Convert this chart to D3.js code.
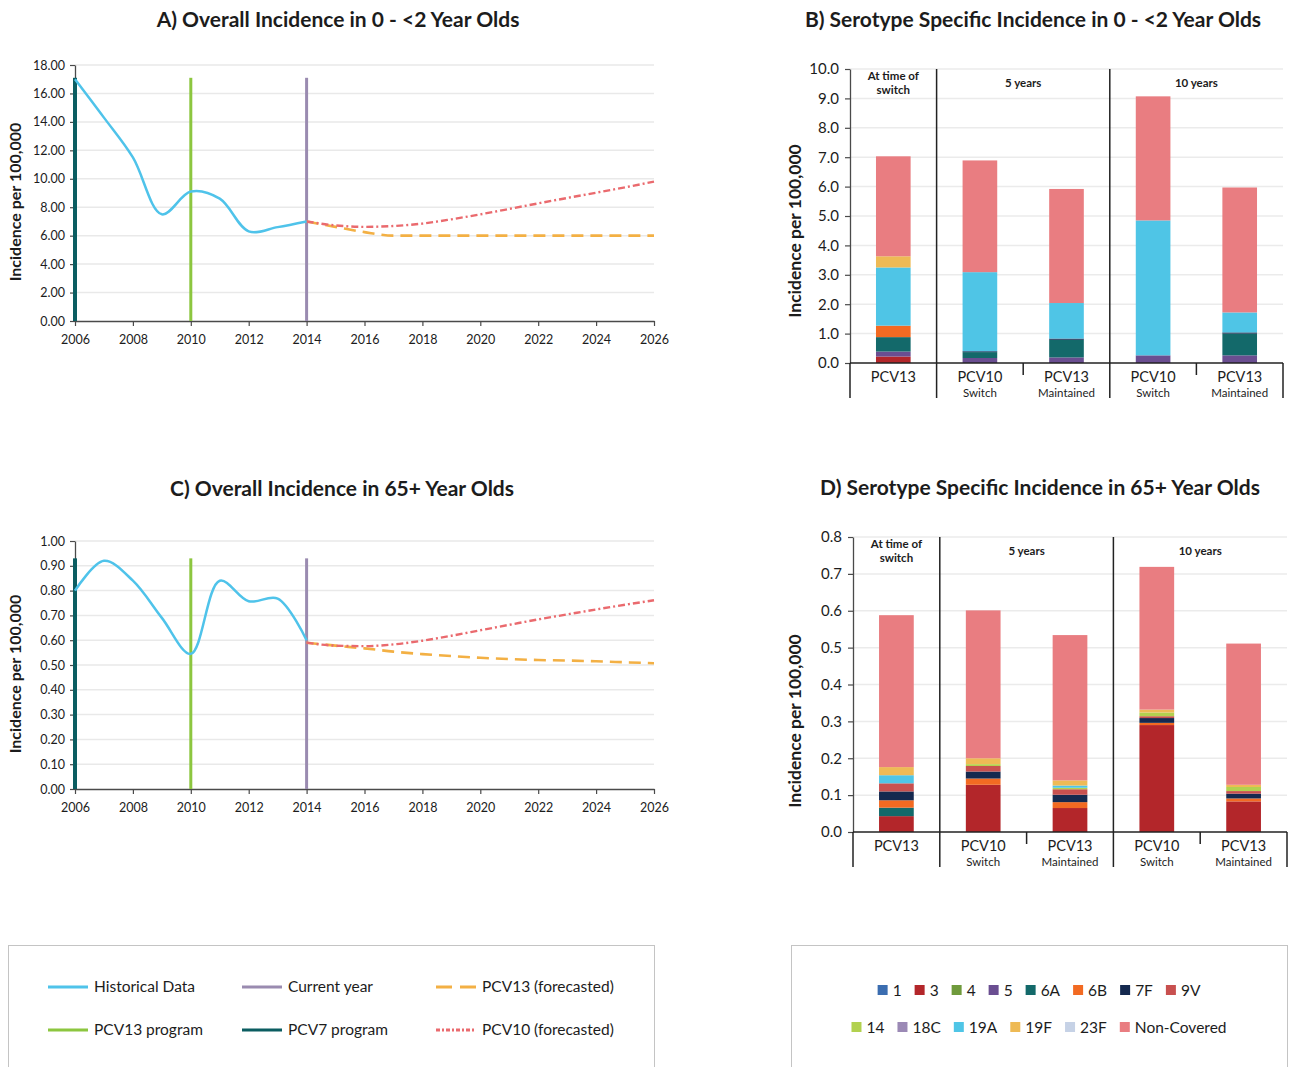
<!DOCTYPE html>
<html lang="en">
<head>
<meta charset="UTF-8">
<title>Pneumococcal incidence</title>
<script src="https://cdnjs.cloudflare.com/ajax/libs/d3/7.8.5/d3.min.js"></script>
<style>
  body { margin: 0; background: #fff; }
  svg text { font-family: Lato, "Open Sans", sans-serif; fill: #1c1c1c; }
</style>
</head>
<body>
<div class="canvas"></div>
<script>
// ---- data ----
const histYears = [2006, 2007, 2008, 2009, 2010, 2011, 2012, 2013, 2014];
const foreYears = [2014, 2015, 2016, 2017, 2018, 2019, 2020, 2021, 2022, 2023, 2024, 2025, 2026];
const yearTicks = [2006, 2008, 2010, 2012, 2014, 2016, 2018, 2020, 2022, 2024, 2026];

// A) 0 - <2 year olds
const histA = [17.0, 14.3, 11.5, 7.5, 9.1, 8.6, 6.3, 6.6, 7.0];
const pcv13A = [7.0, 6.62, 6.25, 6.0, 6.0, 6.0, 6.0, 6.0, 6.0, 6.0, 6.0, 6.0, 6.0];
const pcv10A = [7.0, 6.72, 6.62, 6.68, 6.85, 7.15, 7.5, 7.88, 8.27, 8.65, 9.02, 9.4, 9.8];
const ticksA = [0, 2, 4, 6, 8, 10, 12, 14, 16, 18];

// C) 65+ year olds
const histC = [0.80, 0.92, 0.84, 0.69, 0.545, 0.84, 0.757, 0.768, 0.60];
const pcv13C = [0.59, 0.578, 0.567, 0.554, 0.544, 0.536, 0.529, 0.524, 0.52, 0.518, 0.515, 0.511, 0.507];
const pcv10C = [0.59, 0.578, 0.576, 0.583, 0.598, 0.618, 0.64, 0.662, 0.684, 0.704, 0.724, 0.743, 0.761];
const ticksC = [0, 0.1, 0.2, 0.3, 0.4, 0.5, 0.6, 0.7, 0.8, 0.9, 1.0];

// program / current year markers
const markerYears = [2006, 2010, 2014];
const markerNames = ['PCV7 program', 'PCV13 program', 'Current year'];
const markerColors = ['#0b5d61', '#8cc63f', '#9a8bb0'];

// B / D serotype stacks
const serotypes = ['1', '3', '4', '5', '6A', '6B', '7F', '9V', '14', '18C', '19A', '19F', '23F', 'Non-Covered'];
const serotypeColors = ['#3b6db0', '#b3262a', '#6f9a3c', '#6a4e91', '#13696a', '#f26a22', '#15294f', '#c8504f',
                        '#b2d14f', '#9b89b5', '#4fc5e6', '#eeba55', '#c6d2e6', '#e97d81'];
const barIds = ['switch', 'pcv10_5', 'pcv13_5', 'pcv10_10', 'pcv13_10'];
const barNames = ['PCV13', 'PCV10', 'PCV13', 'PCV10', 'PCV13'];
const barSubs = ['', 'Switch', 'Maintained', 'Switch', 'Maintained'];
const groupLabels = [['At time of', 'switch'], ['5 years'], ['10 years']];
const groupSizes = [1, 2, 2];

//                1     3     4     5     6A    6B    7F    9V  14  18C  19A   19F   23F  NC
const bSwitch   = [0, 0.22, 0, 0.17, 0.49, 0.39, 0,    0,  0,  0,  1.98, 0.38, 0, 3.40];
const bPcv10_5  = [0, 0,    0, 0.17, 0.20, 0,    0.03, 0,  0,  0,  2.69, 0,    0, 3.80];
const bPcv13_5  = [0, 0,    0, 0.19, 0.60, 0,    0.04, 0,  0,  0,  1.21, 0,    0, 3.88];
const bPcv10_10 = [0, 0,    0, 0.26, 0,    0,    0,    0,  0,  0,  4.59, 0,    0, 4.22];
const bPcv13_10 = [0, 0,    0, 0.26, 0.74, 0,    0.04, 0,  0,  0,  0.68, 0,    0, 4.25];
const ticksB = [0, 1, 2, 3, 4, 5, 6, 7, 8, 9, 10];

const dSwitch   = [0, 0.043, 0, 0, 0.023, 0.020, 0.024, 0.022, 0,     0, 0.022, 0.022, 0, 0.412];
const dPcv10_5  = [0, 0.128, 0, 0, 0,     0.017, 0.019, 0.015, 0.005, 0, 0,     0.016, 0, 0.401];
const dPcv13_5  = [0, 0.065, 0, 0, 0,     0.016, 0.020, 0.015, 0.004, 0, 0.006, 0.014, 0, 0.394];
const dPcv10_10 = [0, 0.290, 0, 0, 0,     0.006, 0.013, 0.005, 0.010, 0, 0,     0.008, 0, 0.387];
const dPcv13_10 = [0, 0.083, 0, 0, 0,     0.008, 0.013, 0.007, 0.011, 0, 0,     0.006, 0, 0.383];
const ticksD = [0, 0.1, 0.2, 0.3, 0.4, 0.5, 0.6, 0.7, 0.8];

// legend for line panels
const lineLegendNames = ['Historical Data', 'Current year', 'PCV13 (forecasted)', 'PCV13 program', 'PCV7 program', 'PCV10 (forecasted)'];
const lineLegendColors = ['#4fc3ea', '#9a8bb0', '#f3b044', '#8cc63f', '#0b5d61', '#ea6a6e'];
const lineLegendDash = [null, null, '12,7', null, null, '7,3,2,3'];

// ---- drawing ----
const width = 1290, height = 1067;
const svg = d3.select('.canvas').append('svg').attr('width', width).attr('height', height);

function styleAxis(sel, size) {
  sel.select('.domain').attr('stroke', '#4a4a4a').attr('stroke-width', 1.3);
  sel.selectAll('.tick line').attr('stroke', '#4a4a4a').attr('stroke-width', 1.2);
  sel.selectAll('.tick text').style('font-size', size + 'px').attr('fill', '#1c1c1c');
}

function yLabel(x, y, size) {
  svg.append('text')
    .attr('transform', `translate(${x},${y}) rotate(-90)`)
    .attr('text-anchor', 'middle')
    .style('font-size', size + 'px').style('font-weight', 700)
    .text('Incidence per 100,000');
}

function title(x, y, txt) {
  svg.append('text').attr('x', x).attr('y', y).attr('text-anchor', 'middle')
    .style('font-size', '21px').style('font-weight', 700).text(txt);
}

function linePanel(o) {
  const x = d3.scaleLinear().domain([2006, 2026]).range([o.left, o.right]);
  const y = d3.scaleLinear().domain([0, o.ticks[o.ticks.length - 1]]).range([o.bottom, o.top]);
  const g = svg.append('g');

  g.selectAll('line.grid').data(o.ticks.slice(1)).join('line')
    .attr('x1', o.left).attr('x2', o.right)
    .attr('y1', d => y(d)).attr('y2', d => y(d))
    .attr('stroke', '#e9e9e9').attr('stroke-width', 1.5);

  g.append('g').attr('transform', `translate(${o.left},0)`)
    .call(d3.axisLeft(y).tickValues(o.ticks).tickFormat(d3.format('.2f')).tickSize(5).tickPadding(5).tickSizeOuter(0))
    .call(styleAxis, 12.5);
  g.append('g').attr('transform', `translate(0,${o.bottom})`)
    .call(d3.axisBottom(x).tickValues(yearTicks).tickFormat(d3.format('d')).tickSize(5).tickPadding(9).tickSizeOuter(0))
    .call(styleAxis, 12.5);

  g.selectAll('line.marker').data(markerYears).join('line')
    .attr('x1', d => x(d)).attr('x2', d => x(d))
    .attr('y1', y(0)).attr('y2', y(o.markerTop))
    .attr('stroke', (d, i) => markerColors[i])
    .attr('stroke-width', (d, i) => i === 0 ? 4 : 3);

  const fore = d3.line().x((d, i) => x(foreYears[i])).y(d => y(d)).curve(d3.curveMonotoneX);
  g.append('path').attr('d', fore(o.pcv13)).attr('fill', 'none')
    .attr('stroke', lineLegendColors[2]).attr('stroke-width', 2.6).attr('stroke-dasharray', lineLegendDash[2]);
  g.append('path').attr('d', fore(o.pcv10)).attr('fill', 'none')
    .attr('stroke', lineLegendColors[5]).attr('stroke-width', 2.4).attr('stroke-dasharray', lineLegendDash[5]);

  const hist = d3.line().x((d, i) => x(histYears[i])).y(d => y(d)).curve(d3.curveCatmullRom);
  g.append('path').attr('d', hist(o.hist)).attr('fill', 'none')
    .attr('stroke', lineLegendColors[0]).attr('stroke-width', 2.5);
}

function barPanel(o) {
  const xb = d3.scaleBand().domain(barIds).range([o.left, o.right]).paddingInner(0.6).paddingOuter(0.3);
  const y = d3.scaleLinear().domain([0, o.ticks[o.ticks.length - 1]]).range([o.bottom, o.top]);
  const g = svg.append('g');

  const rows = barIds.map((id, i) => {
    const r = { id };
    serotypes.forEach((s, j) => r[s] = o.bars[i][j]);
    return r;
  });
  const layers = d3.stack().keys(serotypes)(rows);

  g.selectAll('line.grid').data(o.ticks.slice(1)).join('line')
    .attr('x1', o.left).attr('x2', o.right)
    .attr('y1', d => y(d)).attr('y2', d => y(d))
    .attr('stroke', '#ebebeb').attr('stroke-width', 1.5);

  g.selectAll('g.layer').data(layers).join('g')
    .attr('fill', (d, i) => serotypeColors[i])
    .selectAll('rect').data(d => d).join('rect')
    .attr('x', d => xb(d.data.id)).attr('width', xb.bandwidth())
    .attr('y', d => y(d[1])).attr('height', d => y(d[0]) - y(d[1]));

  g.append('g').attr('transform', `translate(${o.left},0)`)
    .call(d3.axisLeft(y).tickValues(o.ticks).tickFormat(d3.format('.1f')).tickSize(5).tickPadding(6).tickSizeOuter(0))
    .call(styleAxis, 15);

  const base = y(0), low = base + 35;
  const half = xb.step() * xb.paddingInner() / 2;
  const sep = [];
  let k = 0;
  groupSizes.forEach(n => { k += n; if (k < barIds.length) sep.push(xb(barIds[k]) - half); });
  const inner = [xb(barIds[2]) - half, xb(barIds[4]) - half];

  g.append('line').attr('x1', o.left).attr('x2', o.right).attr('y1', base).attr('y2', base)
    .attr('stroke', '#222').attr('stroke-width', 1.5);
  g.selectAll('line.edge').data([o.left, o.right]).join('line')
    .attr('x1', d => d).attr('x2', d => d).attr('y1', base).attr('y2', low)
    .attr('stroke', '#222').attr('stroke-width', 1.5);
  g.selectAll('line.sep').data(sep).join('line')
    .attr('x1', d => d).attr('x2', d => d).attr('y1', o.top).attr('y2', low)
    .attr('stroke', '#222').attr('stroke-width', 1.5);
  g.selectAll('line.inner').data(inner).join('line')
    .attr('x1', d => d).attr('x2', d => d).attr('y1', base).attr('y2', base + 12)
    .attr('stroke', '#222').attr('stroke-width', 1.5);

  const cx = id => xb(id) + xb.bandwidth() / 2;
  g.selectAll('text.cat').data(barIds).join('text')
    .attr('x', cx).attr('y', base + 19).attr('text-anchor', 'middle')
    .style('font-size', '14.5px').text((d, i) => barNames[i]);
  g.selectAll('text.sub').data(barIds).join('text')
    .attr('x', cx).attr('y', base + 34).attr('text-anchor', 'middle')
    .style('font-size', '11.5px').attr('fill', '#333').text((d, i) => barSubs[i]);

  let start = 0;
  groupLabels.forEach((lines, gi) => {
    const ids = barIds.slice(start, start + groupSizes[gi]);
    start += groupSizes[gi];
    const mid = (xb(ids[0]) + xb(ids[ids.length - 1]) + xb.bandwidth()) / 2;
    lines.forEach((t, li) => {
      g.append('text').attr('x', mid)
        .attr('y', o.top + (lines.length > 1 ? 10.5 + li * 14 : 18))
        .attr('text-anchor', 'middle')
        .style('font-size', '11.5px').style('font-weight', 700).text(t);
    });
  });
}

// panels
title(338, 27, 'A) Overall Incidence in 0 - <2 Year Olds');
linePanel({ left: 75, right: 654, top: 65, bottom: 321, ticks: ticksA, markerTop: 17.1, hist: histA, pcv13: pcv13A, pcv10: pcv10A });
yLabel(21, 202, 16);

title(342, 496, 'C) Overall Incidence in 65+ Year Olds');
linePanel({ left: 75, right: 654, top: 541, bottom: 789, ticks: ticksC, markerTop: 0.93, hist: histC, pcv13: pcv13C, pcv10: pcv10C });
yLabel(21, 674, 16);

title(1033, 27, 'B) Serotype Specific Incidence in 0 - <2 Year Olds');
barPanel({ left: 850, right: 1283, top: 69, bottom: 363, ticks: ticksB,
           bars: [bSwitch, bPcv10_5, bPcv13_5, bPcv10_10, bPcv13_10] });
yLabel(801, 231, 17.5);

title(1040, 495, 'D) Serotype Specific Incidence in 65+ Year Olds');
barPanel({ left: 853, right: 1287, top: 537, bottom: 832, ticks: ticksD,
           bars: [dSwitch, dPcv10_5, dPcv13_5, dPcv10_10, dPcv13_10] });
yLabel(801, 721, 17.5);

// legend: line panels
svg.append('rect').attr('x', 8.5).attr('y', 945.5).attr('width', 646).attr('height', 140)
  .attr('fill', 'none').attr('stroke', '#c4c4c4');
const legCols = [48, 242, 436], legRows = [987, 1030];
const legL = svg.append('g').selectAll('g').data(lineLegendNames).join('g')
  .attr('transform', (d, i) => `translate(${legCols[i % 3]},${legRows[Math.floor(i / 3)]})`);
legL.append('line').attr('x1', 0).attr('x2', 40).attr('y1', 0).attr('y2', 0)
  .attr('stroke', (d, i) => lineLegendColors[i]).attr('stroke-width', 3)
  .attr('stroke-dasharray', (d, i) => lineLegendDash[i] === null ? null : (i === 2 ? '16,8' : '4,2,2,2'));
legL.append('text').attr('x', 46).attr('dy', '0.35em').style('font-size', '15.5px').text(d => d);

// legend: serotypes
svg.append('rect').attr('x', 791.5).attr('y', 945.5).attr('width', 496).attr('height', 140)
  .attr('fill', 'none').attr('stroke', '#c4c4c4');
const serRows = [serotypes.slice(0, 8), serotypes.slice(8)];
const serY = [990, 1027];
serRows.forEach((row, ri) => {
  const g = svg.append('g');
  let cx = 0;
  row.forEach(s => {
    const idx = serotypes.indexOf(s);
    const item = g.append('g').attr('transform', `translate(${cx},${serY[ri]})`);
    item.append('rect').attr('x', 0).attr('y', -5).attr('width', 10).attr('height', 10).attr('fill', serotypeColors[idx]);
    const t = item.append('text').attr('x', 15).attr('dy', '0.36em').style('font-size', '15.5px').text(s);
    cx += 15 + t.node().getComputedTextLength() + 13;
  });
  g.attr('transform', `translate(${1039 - (cx - 13) / 2},0)`);
});
</script>
</body>
</html>
